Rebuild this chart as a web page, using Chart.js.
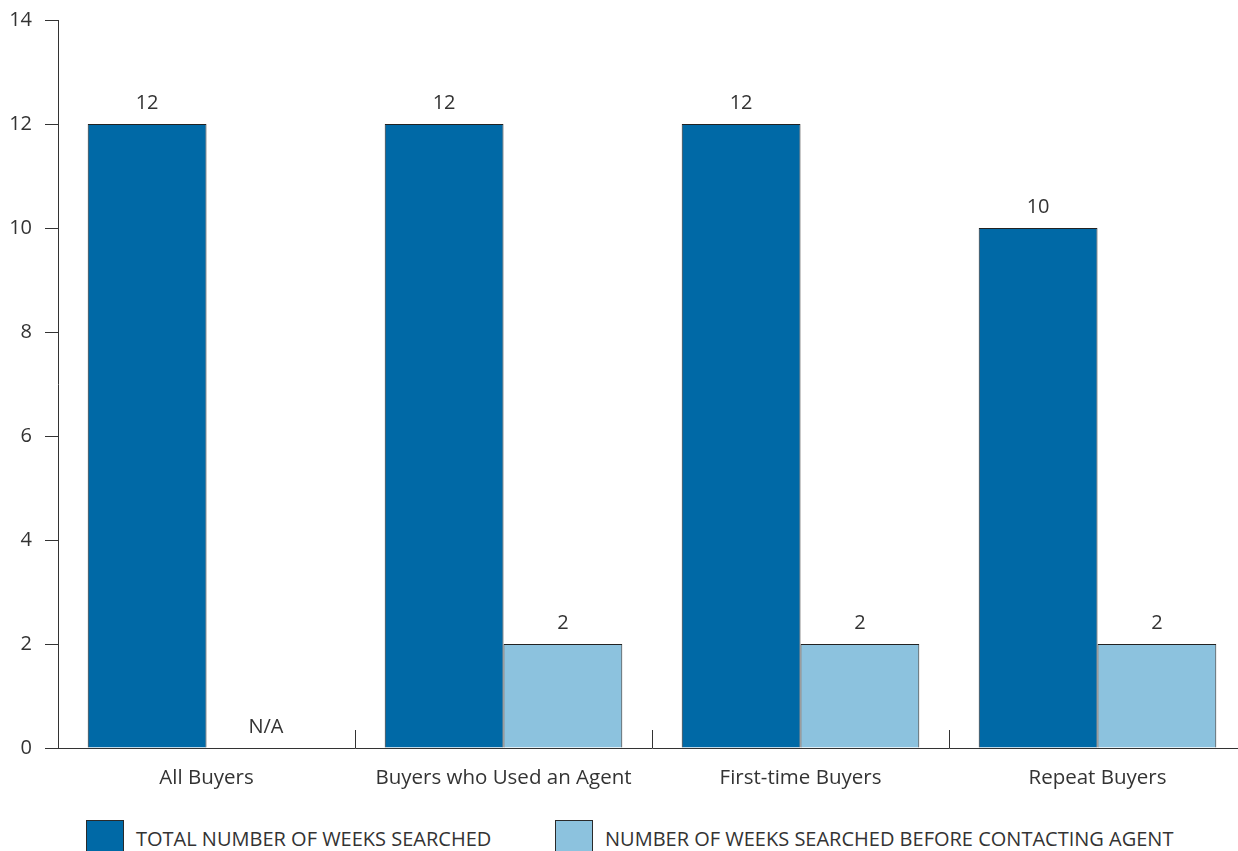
<!DOCTYPE html>
<html>
<head>
<meta charset="utf-8">
<script src="https://cdn.jsdelivr.net/npm/chart.js@4/dist/chart.umd.min.js"></script>
<style>
	html, body { margin: 0; padding: 0; background: #fff; overflow: hidden; width: 1238px; height: 851px; }
	#wrap { position: relative; width: 1260px; height: 800px; }
	#legend { position: absolute; left: 0; top: 820px; width: 1260px; height: 40px; font-family: "Open Sans", sans-serif; font-size: 20px; color: #333; }
	.item { position: absolute; top: 0; display: flex; align-items: center; white-space: nowrap; }
	.box { width: 36px; height: 34px; border: 1px solid #2a2a2a; margin-right: 12px; }
</style>
</head>
<body>
<div id="wrap"><canvas id="chart" width="1260" height="800"></canvas></div>
<div id="legend"></div>
<script>
const categories = ['All Buyers', 'Buyers who Used an Agent', 'First-time Buyers', 'Repeat Buyers'];
const totalWeeks = [12, 12, 12, 10];
const beforeAgent = [null, 2, 2, 2];
const seriesNames = ['TOTAL NUMBER OF WEEKS SEARCHED', 'NUMBER OF WEEKS SEARCHED BEFORE CONTACTING AGENT'];
const seriesColors = ['#0069a6', '#8cc2de'];
const yTicks = [0, 2, 4, 6, 8, 10, 12, 14];
const legendLeft = [86, 555];

const fontFamily = '"Open Sans", sans-serif';
const ink = '#333333';

// value labels above the bars, N/A when missing
var valueLabels = {
	id: 'valueLabels',
	afterDatasetsDraw(chart) {
		const ctx = chart.ctx;
		ctx.save();
		ctx.font = '20px ' + fontFamily;
		ctx.fillStyle = ink;
		ctx.textAlign = 'center';
		ctx.textBaseline = 'middle';
		chart.data.datasets.forEach((ds, di) => {
			chart.getDatasetMeta(di).data.forEach((bar, i) => {
				const raw = ds.raw[i];
				const txt = raw === null ? 'N/A' : String(raw);
				ctx.fillText(txt, bar.x, bar.y - 21);
			});
		});
		ctx.restore();
	}
};

// short upward ticks between categories
var catTicks = {
	id: 'catTicks',
	afterDatasetsDraw(chart) {
		const x = chart.scales.x;
		const ctx = chart.ctx;
		const bottom = chart.chartArea.bottom;
		ctx.save();
		ctx.strokeStyle = ink;
		ctx.lineWidth = 1;
		for (let i = 1; i < categories.length; i++) {
			const px = Math.round((x.getPixelForValue(i - 1) + x.getPixelForValue(i)) / 2) + 0.5;
			ctx.beginPath();
			ctx.moveTo(px, bottom - 18);
			ctx.lineTo(px, bottom);
			ctx.stroke();
		}
		ctx.restore();
	}
};

const data = {
	labels: categories,
	datasets: [
		{
			label: seriesNames[0],
			raw: totalWeeks,
			data: totalWeeks.map(v => v === null ? 0 : v),
			backgroundColor: seriesColors[0],
			borderColor: '#222',
			borderWidth: 1,
			barPercentage: 1,
			categoryPercentage: 0.8
		},
		{
			label: seriesNames[1],
			raw: beforeAgent,
			data: beforeAgent.map(v => v === null ? 0 : v),
			backgroundColor: seriesColors[1],
			borderColor: '#222',
			borderWidth: 1,
			barPercentage: 1,
			categoryPercentage: 0.8
		}
	]
};

const config = {
	type: 'bar',
	data: data,
	options: {
		responsive: false,
		animation: false,
		layout: { padding: { left: 0, right: 14, top: 20, bottom: 2 } },
		plugins: {
			legend: { display: false },
			tooltip: { enabled: false }
		},
		scales: {
			x: {
				grid: { display: false },
				border: { display: true, color: ink, width: 1 },
				ticks: { color: ink, font: { family: fontFamily, size: 20.5 }, padding: 10 },
				afterFit(scale) { scale.height = 50; }
			},
			y: {
				min: 0,
				max: 14,
				afterBuildTicks(scale) { scale.ticks = yTicks.map(v => ({ value: v })); },
				grid: { drawOnChartArea: false, drawTicks: true, tickLength: 13, color: ink },
				border: { display: true, color: ink, width: 1 },
				ticks: { color: ink, font: { family: fontFamily, size: 20 }, padding: 13 },
				afterFit(scale) {
					scale.width = 58;
					scale.paddingTop = 0;
					scale.paddingBottom = 0;
				}
			}
		}
	},
	plugins: [valueLabels, catTicks]
};

const myChart = new Chart(document.getElementById('chart'), config);

var legend = document.getElementById('legend');
seriesNames.forEach((name, i) => {
	var item = document.createElement('div');
	item.className = 'item';
	item.style.left = legendLeft[i] + 'px';
	var box = document.createElement('div');
	box.className = 'box';
	box.style.background = seriesColors[i];
	var txt = document.createElement('span');
	txt.textContent = name;
	item.append(box, txt);
	legend.append(item);
});
</script>
</body>
</html>
